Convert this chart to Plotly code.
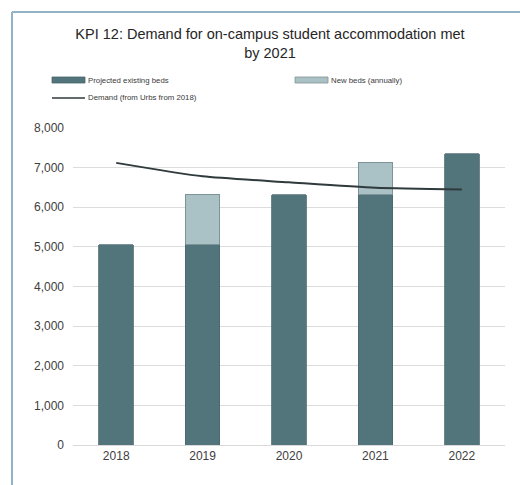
import plotly.graph_objects as go

# KPI 12 data: on-campus beds vs demand
years = ["2018", "2019", "2020", "2021", "2022"]
existing_beds = [5050, 5050, 6310, 6310, 7350]
new_beds = [0, 1260, 0, 810, 0]
demand = [7120, 6780, 6630, 6490, 6450]

y_ticks = [0, 1000, 2000, 3000, 4000, 5000, 6000, 7000, 8000]

DARK = "#52747b"
LIGHT = "#aac1c6"
LINE = "#2f3a3c"
BORDER = "#92b2c8"
FONT = "Liberation Sans, Arial, sans-serif"

W, H = 520, 485
ML, MR, MT, MB = 73, 15, 128, 40
PW, PH = W - ML - MR, H - MT - MB


def px(x):
    return (x - ML) / PW


def py(y):
    return (H - MB - y) / PH


fig = go.Figure()
fig.add_trace(go.Bar(
    x=years, y=existing_beds, name="Projected existing beds",
    marker=dict(color=DARK, line=dict(color="#4a666c", width=0.8)),
))
fig.add_trace(go.Bar(
    x=years, y=new_beds, name="New beds (annually)",
    marker=dict(color=LIGHT, line=dict(color="#7d9398", width=1)),
))
fig.add_trace(go.Scatter(
    x=years, y=demand, name="Demand (from Urbs from 2018)",
    mode="lines", line=dict(color=LINE, width=2, shape="spline", smoothing=0.6),
))

shapes = [
    # outer frame (left and top edges)
    dict(type="line", xref="paper", yref="paper", x0=px(12), x1=px(12),
         y0=py(H + 5), y1=py(12), line=dict(color=BORDER, width=2)),
    dict(type="line", xref="paper", yref="paper", x0=px(12), x1=px(W + 5),
         y0=py(12), y1=py(12), line=dict(color=BORDER, width=2)),
]

# hand-placed legend
row1, row2 = 80, 98
legend_items = [
    ("rect", DARK, "#4a666c", 52, row1, "Projected existing beds"),
    ("rect", LIGHT, "#7d9398", 295, row1, "New beds (annually)"),
    ("line", LINE, LINE, 52, row2, "Demand (from Urbs from 2018)"),
]
annotations = []
for kind, fill, edge, x0, yc, label in legend_items:
    if kind == "rect":
        shapes.append(dict(type="rect", xref="paper", yref="paper",
                           x0=px(x0), x1=px(x0 + 33), y0=py(yc + 3), y1=py(yc - 3),
                           fillcolor=fill, line=dict(color=edge, width=0.8)))
    else:
        shapes.append(dict(type="line", xref="paper", yref="paper",
                           x0=px(x0), x1=px(x0 + 33), y0=py(yc), y1=py(yc),
                           line=dict(color=fill, width=1.5)))
    annotations.append(dict(xref="paper", yref="paper", x=px(x0 + 34), y=py(yc),
                            xanchor="left", yanchor="middle", showarrow=False,
                            text=label, font=dict(family=FONT, size=7.8, color="#3a3a3a")))

fig.update_layout(
    width=W, height=H,
    margin=dict(l=ML, r=MR, t=MT, b=MB),
    paper_bgcolor="white", plot_bgcolor="white",
    barmode="stack", bargap=0.6,
    showlegend=False,
    title=dict(text="KPI 12: Demand for on-campus student accommodation met<br>by 2021",
               x=px(270), xref="paper", xanchor="center", y=1 - 39 / H, yanchor="middle",
               font=dict(family=FONT, size=14.5, color="#262626")),
    font=dict(family=FONT, size=12, color="#404040"),
    shapes=shapes,
    annotations=annotations,
    xaxis=dict(showline=True, linecolor="#d9d9d9", linewidth=1, ticks="",
               tickfont=dict(size=12, color="#404040")),
    yaxis=dict(range=[0, 8000], tickvals=y_ticks, tickformat=",d",
               showgrid=True, gridcolor="#dcdcdc", gridwidth=1,
               zeroline=False, ticks="", ticklen=0, ticklabelstandoff=8,
               tickfont=dict(size=12, color="#404040")),
)

fig.write_html("out.html")
